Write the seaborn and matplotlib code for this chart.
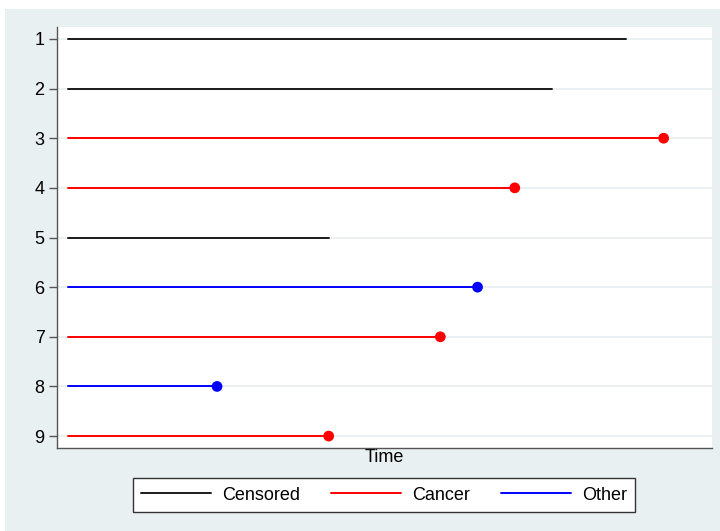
import pandas as pd
import matplotlib.pyplot as plt
from matplotlib.patches import Rectangle
from matplotlib.lines import Line2D
import seaborn as sns

## data
subjects = [1, 2, 3, 4, 5, 6, 7, 8, 9]
times = [15, 13, 16, 12, 7, 11, 10, 4, 7]
status = ['Censored', 'Censored', 'Cancer', 'Cancer', 'Censored',
          'Other', 'Cancer', 'Other', 'Cancer']
categories = ['Censored', 'Cancer', 'Other']
colors = {'Censored': '#1a1a1a', 'Cancer': '#ff0000', 'Other': '#0000ff'}

# long form: each subject has a start point at 0 and an end point at its time
rows = []
for s, t, st in zip(subjects, times, status):
    rows.append({'id': s, 'time': 0, 'status': st})
    rows.append({'id': s, 'time': t, 'status': st})
df = pd.DataFrame(rows)
events = pd.DataFrame({'id': subjects, 'time': times, 'status': status})
events = events[events['status'] != 'Censored']

sns.set_style('white')
plt.rcParams['font.family'] = ['Liberation Sans', 'DejaVu Sans']
plt.rcParams['text.color'] = 'black'

fig = plt.figure(figsize=(7.2, 5.31), dpi=100)
fig.patch.set_facecolor('white')
fig.patches.append(Rectangle((5 / 720, 0), 1, 1 - 9 / 531, transform=fig.transFigure,
                             facecolor='#e9f0f2', edgecolor='none', zorder=-10))

ax = fig.add_axes([57 / 720, 1 - 448 / 531, (712 - 57) / 720, (448 - 27) / 531])
ax.set_facecolor('white')

for s in subjects:
    ax.axhline(s, color='#e8eff1', lw=1.2, zorder=0)

sns.lineplot(data=df, x='time', y='id', hue='status', units='id', estimator=None,
             sort=False, palette=colors, lw=1.4, legend=False, ax=ax, zorder=2)
sns.scatterplot(data=events, x='time', y='id', hue='status', palette=colors,
                s=60, edgecolor='none', legend=False, ax=ax, zorder=3)

ax.set_xlim(-0.3, 17.3)
ax.set_ylim(9.24, 0.76)
ax.set_yticks(subjects)
ax.set_yticklabels([str(s) for s in subjects], fontsize=13, color='black')
ax.set_xticks([])
ax.set_ylabel('')
ax.set_xlabel('Time', fontsize=13, labelpad=1, color='black')
ax.tick_params(axis='y', left=True, length=6, width=1, color='#555555', pad=3)

for side in ['top', 'right']:
    ax.spines[side].set_visible(False)
for side in ['left', 'bottom']:
    ax.spines[side].set_color('#555555')
    ax.spines[side].set_linewidth(1)

handles = [Line2D([0], [0], color=colors[c], lw=1.4) for c in categories]
leg = fig.legend(handles, categories, loc='center', bbox_to_anchor=(384 / 720, 1 - 495 / 531),
                 ncol=3, fontsize=13, frameon=True, fancybox=False, handlelength=3.9,
                 columnspacing=1.7, handletextpad=0.6, borderpad=0.45, framealpha=1)
leg.get_frame().set_edgecolor('#333333')
leg.get_frame().set_linewidth(1)
leg.get_frame().set_facecolor('white')
for txt in leg.get_texts():
    txt.set_color('black')

fig.savefig('out.png', dpi=100)
